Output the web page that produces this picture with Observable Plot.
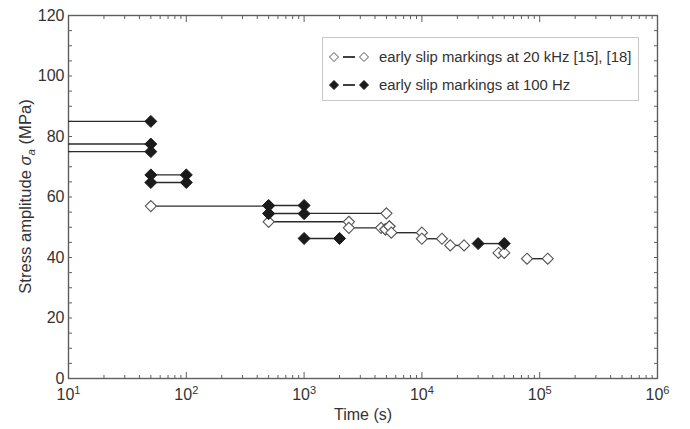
<!DOCTYPE html>
<html><head><meta charset="utf-8">
<script src="https://cdn.jsdelivr.net/npm/d3@7"></script>
<script src="https://cdn.jsdelivr.net/npm/@observablehq/plot@0.6"></script>
<style>
body{margin:0;background:#fff;font-family:"Liberation Sans",Arial,sans-serif;}
#wrap{position:relative;width:690px;height:429px;}
#legend{position:absolute;left:322px;top:37px;width:317px;height:64px;border:1px solid #c8c8c8;background:#fff;box-sizing:border-box;font-size:14.9px;color:#333;}
#legend .row{position:absolute;left:0;height:20px;display:flex;align-items:center;}
#legend svg{margin-left:6px;margin-right:10px;}
</style></head><body><div id="wrap"><div id="chart"></div><div id="legend"></div></div>
<script>
// 100 Hz series (filled diamonds): horizontal segments start/end time and stress
const filledX1 = [1, 1, 1, 50, 50, 500, 500, 1000, 30000];
const filledX2 = [50, 50, 50, 100, 100, 1000, 1000, 2000, 50000];
const filledY  = [85, 77.5, 75, 67.3, 64.8, 57.2, 54.5, 46.3, 44.6];
// 20 kHz series (open diamonds)
const openX1 = [50, 500, 500, 2400, 4900, 5300, 5500, 10000, 17400, 44700, 78000];
const openX2 = [500, 5000, 2400, 4500, 4900, 5300, 10000, 14800, 22800, 50000, 117000];
const openY  = [57, 54.6, 51.8, 49.8, 49.3, 50.3, 48.2, 46.2, 44, 41.5, 39.6];
// axis ticks
const xMajorTicks = [10, 100, 1000, 10000, 100000, 1000000];
const xExponents = ["1", "2", "3", "4", "5", "6"];
const yMajorTicks = [0, 20, 40, 60, 80, 100, 120];
const seriesNames = ["early slip markings at 20 kHz [15], [18]", "early slip markings at 100 Hz"];

const segF = filledY.map((y, i) => ({x1: filledX1[i], x2: filledX2[i], y}));
const segO = openY.map((y, i) => ({x1: openX1[i], x2: openX2[i], y}));
const ends = seg => seg.flatMap(d => [{x: d.x1, y: d.y}, {x: d.x2, y: d.y}]);
const xMinor = [1, 2, 3, 4, 5].flatMap(e => [2, 3, 4, 5, 6, 7, 8, 9].map(m => m * 10 ** e));
const yMinor = d3.range(0, 121, 5);

const ink = "#2b2b2b";
const axisCol = "#5e5e5e";
const tick = {text: null, label: null, stroke: axisCol, strokeWidth: 1};
const M = {top: 15, bottom: 51};
const chart = Plot.plot({
  width: 690, height: 429,
  marginLeft: 68, marginRight: 33, marginTop: M.top, marginBottom: M.bottom,
  x: {type: "log", domain: [10, 1e6]},
  y: {domain: [0, 120]},
  style: {fontFamily: "'Liberation Sans', Arial, sans-serif", fontSize: "16px", color: "#333", background: "#fff"},
  marks: [
    // ticks drawn inward on all four sides
    Plot.axisX(xMinor, {anchor: "bottom", tickSize: 3, dy: -3, ...tick}),
    Plot.axisX(xMinor, {anchor: "top", tickSize: 3, dy: 3, ...tick}),
    Plot.axisX(xMajorTicks, {anchor: "bottom", tickSize: 6, dy: -6, ...tick}),
    Plot.axisX(xMajorTicks, {anchor: "top", tickSize: 6, dy: 6, ...tick}),
    Plot.axisY(yMinor, {anchor: "left", tickSize: 4, dx: 4, ...tick}),
    Plot.axisY(yMinor, {anchor: "right", tickSize: 4, dx: -4, ...tick}),
    // labels
    Plot.axisX(xMajorTicks, {anchor: "bottom", tickSize: 0, tickPadding: 10,
      tickFormat: d => "10^" + xExponents[xMajorTicks.indexOf(d)],
      label: "Time (s)", labelAnchor: "center", labelOffset: 41, labelArrow: "none"}),
    Plot.axisY(yMajorTicks, {anchor: "left", tickSize: 0, tickPadding: 4, tickFormat: d => String(d),
      label: "Stress amplitude σa (MPa)", labelAnchor: "center", labelOffset: 49, labelArrow: "none"}),
    Plot.frame({stroke: axisCol, strokeWidth: 1.4}),
    // data
    Plot.link(segO, {x1: "x1", x2: "x2", y1: "y", y2: "y", stroke: ink, strokeWidth: 1.4, clip: true}),
    Plot.link(segF, {x1: "x1", x2: "x2", y1: "y", y2: "y", stroke: ink, strokeWidth: 1.4, clip: true}),
    Plot.dot(ends(segO), {x: "x", y: "y", symbol: "diamond2", r: 5, fill: "#fff", stroke: "#555", strokeWidth: 1.1, clip: true}),
    Plot.dot(ends(segF), {x: "x", y: "y", symbol: "diamond2", r: 5.4, fill: "#1a1a1a", stroke: "#1a1a1a", strokeWidth: 1, clip: true})
  ]
});
document.getElementById("chart").appendChild(chart);

// superscript exponents on the log axis
d3.select(chart).selectAll('g[aria-label="x-axis tick label"] text').each(function () {
  const t = d3.select(this);
  const parts = t.text().split("^");
  t.text(parts[0]);
  t.append("tspan").attr("dy", "-0.55em").attr("font-size", "11px").text(parts[1]);
});
// italic sigma with subscript a, re-centred vertically on the frame
d3.select(chart).selectAll('g[aria-label="y-axis label"] text').each(function () {
  const t = d3.select(this);
  t.attr("font-size", "16.6px");
  t.text("Stress amplitude ");
  t.append("tspan").attr("font-style", "italic").text("σ");
  t.append("tspan").attr("font-size", "11.5px").attr("font-style", "italic").attr("dy", "0.35em").text("a");
  t.append("tspan").attr("dy", "-0.25em").text(" (MPa)");
  const svgTop = chart.getBoundingClientRect().top;
  const r = this.getBoundingClientRect();
  const centre = r.top + r.height / 2 - svgTop;
  const target = (M.top + (429 - M.bottom)) / 2;
  const shift = target - centre; // positive: move down the page
  const tr = t.attr("transform") || "";
  t.attr("transform", `translate(0,${shift}) ` + tr);
});

// legend
const legend = d3.select("#legend");
const rows = [{name: seriesNames[0], fill: "#fff", stroke: "#555", top: 9}, {name: seriesNames[1], fill: "#1a1a1a", stroke: "#1a1a1a", top: 37}];
rows.forEach(r => {
  const row = legend.append("div").attr("class", "row").style("top", r.top + "px");
  const s = row.append("svg").attr("width", 40).attr("height", 14);
  s.append("line").attr("x1", 14).attr("x2", 26).attr("y1", 7).attr("y2", 7).attr("stroke", ink).attr("stroke-width", 1.8);
  [5, 35].forEach(cx => s.append("path").attr("d", `M${cx},${2.5} L${cx + 4.5},7 L${cx},11.5 L${cx - 4.5},7Z`).attr("fill", r.fill).attr("stroke", r.stroke).attr("stroke-width", 1));
  row.append("span").text(r.name);
});
</script>
</body></html>
